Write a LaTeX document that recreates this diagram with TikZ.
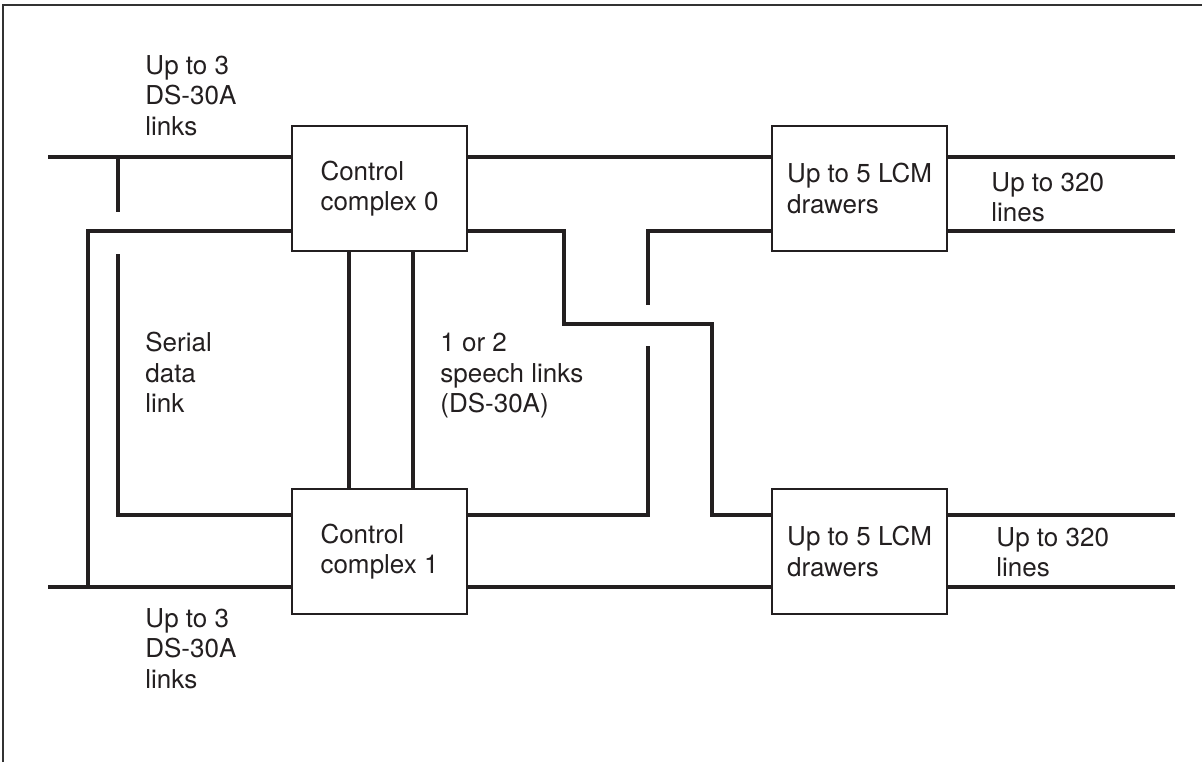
\documentclass[tikz,border=0pt]{standalone}
\usepackage{fontspec}
\setmainfont{TeX Gyre Heros}
\usetikzlibrary{positioning,calc}
\definecolor{inkdark}{RGB}{35,31,32}
\definecolor{framegray}{RGB}{50,50,50}

\begin{document}
\begin{tikzpicture}[
    x=0.02cm, y=-0.02cm,
    box/.style={draw=inkdark, line width=1.2pt, minimum width=3.5cm, minimum height=2.5cm, align=left, inner sep=0pt, text=inkdark},
    lbl/.style={anchor=north west, inner sep=0pt, align=left, text=inkdark},
    wire/.style={draw=inkdark, line width=1.8pt},
    font=\fontsize{14.8}{17.4}\selectfont
]
\useasboundingbox (0,0) rectangle (1202,762);
\draw[framegray, line width=1.1pt] (3,762) -- (3,5) -- (1202,5);

\node[box] (cc0) at (379.5,188.5) {Control\\complex 0};
\node[box, below=4.72cm of cc0] (cc1) {Control\\complex 1};
\node[box, right=6.06cm of cc0] (lcm0) {Up to 5 LCM\\drawers};
\node[box, below=4.72cm of lcm0] (lcm1) {Up to 5 LCM\\drawers};

\node[lbl] (lnk0) at (145,55) {Up to 3\\DS-30A\\links};
\node[lbl] (lnk1) at (145,608) {Up to 3\\DS-30A\\links};
\node[lbl] (sdl) at (145,332) {Serial\\data\\link};
\node[lbl] (spl) at (440,333) {1 or 2\\speech links\\(DS-30A)};
\node[lbl] (ln0) at (991,172) {Up to 320\\lines};
\node[lbl] (ln1) at (996,527) {Up to 320\\lines};

\coordinate (inA) at (48,157);
\coordinate (inB) at (48,587);
\coordinate (tap) at (118,157);
\coordinate (sdA) at (118,212);
\coordinate (sdB) at (118,254);
\coordinate (sdC) at (118,515);
\coordinate (fbA) at (88,231);
\coordinate (fbB) at (88,587);
\coordinate (xa) at (564,231);
\coordinate (xb) at (564,324);
\coordinate (xc) at (712,324);
\coordinate (xd) at (712,515);
\coordinate (ra) at (648,231);
\coordinate (rb) at (648,305);
\coordinate (rc) at (648,346);
\coordinate (rd) at (648,515);
\coordinate (oa) at (1175,157);
\coordinate (ob) at (1175,231);
\coordinate (oc) at (1175,515);
\coordinate (od) at (1175,587);

\draw[wire] (inA) -- (inA -| cc0.west);
\draw[wire] (inB) -- (inB -| cc1.west);
\draw[wire] (tap) -- (sdA);
\draw[wire] (sdB) -- (sdC) -- (sdC -| cc1.west);
\draw[wire] (fbA -| cc0.west) -- (fbA) -- (fbB);

\draw[wire] ([xshift=-0.61cm]cc0.south) -- ([xshift=-0.61cm]cc1.north);
\draw[wire] ([xshift=0.67cm]cc0.south) -- ([xshift=0.67cm]cc1.north);

\draw[wire] (inA -| cc0.east) -- (inA -| lcm0.west);
\draw[wire] (inB -| cc1.east) -- (inB -| lcm1.west);
\draw[wire] (xa -| cc0.east) -- (xa) -- (xb) -- (xc) -- (xd) -- (xd -| lcm1.west);
\draw[wire] (ra -| lcm0.west) -- (ra) -- (rb);
\draw[wire] (rc) -- (rd) -- (rd -| cc1.east);

\draw[wire] (oa -| lcm0.east) -- (oa);
\draw[wire] (ob -| lcm0.east) -- (ob);
\draw[wire] (oc -| lcm1.east) -- (oc);
\draw[wire] (od -| lcm1.east) -- (od);
\end{tikzpicture}
\end{document}
